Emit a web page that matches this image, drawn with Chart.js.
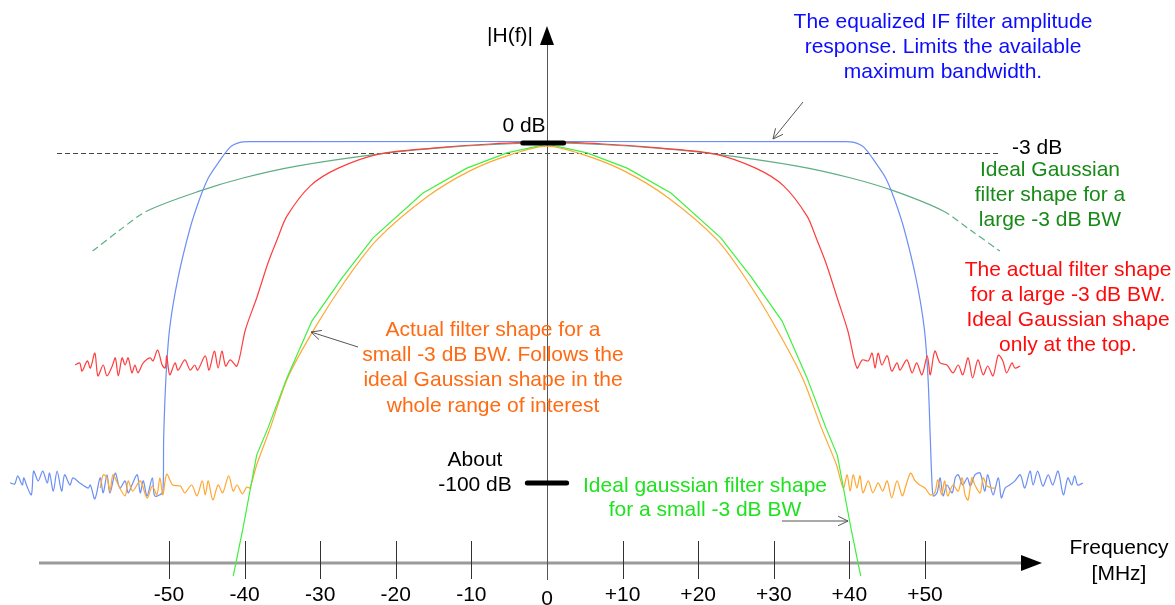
<!DOCTYPE html>
<html>
<head>
<meta charset="utf-8">
<title>IF filter shapes</title>
<script src="https://cdn.jsdelivr.net/npm/chart.js@4.4.1/dist/chart.umd.min.js"></script>
<style>
    html, body { margin: 0; padding: 0; background: #ffffff; }
    canvas { display: block; }
</style>
</head>
<body>
<canvas id="filterChart" width="1175" height="605"></canvas>
<script>
// Frequency axis ticks (MHz)
const TICK_VALUES = [-50, -40, -30, -20, -10, 0, 10, 20, 30, 40, 50];
const TICK_LABELS = ['-50', '-40', '-30', '-20', '-10', '0', '+10', '+20', '+30', '+40', '+50'];

// Reference levels (dB)
const TOP_LEVEL = 0;
const HALF_POWER_LEVEL = -3;
const FLOOR_LEVEL = -100;

// Each trace is a list of [frequency MHz, level dB]
const equalizedIF = [
    [-71.0, -100.0], [-70.4, -100.3], [-70.0, -97.9], [-69.4, -100.6], [-69.2, -98.5], [-68.8, -100.9],
    [-68.2, -103.5], [-67.9, -96.5], [-67.3, -99.4], [-66.7, -96.5], [-66.1, -100.0], [-65.8, -97.1],
    [-65.3, -102.4], [-64.8, -96.5], [-64.2, -102.4], [-63.8, -97.6], [-63.1, -100.6], [-62.7, -98.5],
    [-61.8, -100.0], [-60.7, -101.5], [-60.4, -100.6], [-59.8, -104.7], [-59.1, -98.5], [-58.7, -102.9],
    [-58.2, -97.6], [-57.8, -102.9], [-57.1, -97.1], [-56.5, -101.5], [-55.8, -99.4], [-55.4, -102.9],
    [-54.9, -100.6], [-54.2, -97.6], [-53.8, -102.9], [-53.4, -99.4], [-52.9, -103.8], [-52.2, -98.5],
    [-51.9, -103.8], [-51.2, -103.5], [-50.8, -102.4],
    [-50.7, -86.8], [-50.4, -69.1], [-49.9, -54.4], [-48.8, -39.7], [-47.2, -25.0], [-45.9, -16.2],
    [-44.8, -10.3], [-43.5, -5.9], [-41.9, -1.2], [-40.6, 0.2], [-39.3, 0.4],
    [39.3, 0.4], [40.6, 0.2], [41.9, -1.2], [43.5, -5.9], [44.8, -10.3], [45.9, -16.2], [47.2, -25.0],
    [48.8, -39.7], [49.9, -54.4], [50.4, -69.1], [50.7, -86.8], [50.9, -98.5],
    [51.1, -103.8], [51.6, -102.9], [52.0, -98.5], [52.4, -103.8], [52.9, -100.6], [53.6, -102.9],
    [54.0, -98.5], [54.4, -97.6], [55.0, -100.6], [55.6, -98.5], [56.0, -100.9], [56.6, -97.6],
    [57.3, -97.1], [57.9, -102.4], [58.3, -97.6], [59.0, -103.5], [59.7, -98.5], [60.1, -104.4],
    [60.6, -101.5], [61.2, -100.6], [61.9, -99.4], [62.6, -97.6], [63.2, -101.5], [63.9, -96.5],
    [64.3, -100.6], [64.9, -96.5], [65.6, -100.9], [66.3, -97.6], [66.9, -100.6], [67.6, -96.5],
    [68.3, -103.5], [68.9, -98.5], [69.4, -100.6], [69.8, -97.9], [70.2, -100.6], [70.9, -100.0]
];

const actualLargeBW = [
    [-62.4, -65.3], [-61.8, -64.7], [-61.5, -67.1], [-60.8, -64.1], [-60.4, -66.2], [-59.8, -61.8],
    [-59.4, -68.5], [-58.7, -65.3], [-58.2, -68.5], [-57.5, -65.6], [-57.1, -63.2], [-56.7, -68.5],
    [-56.2, -63.2], [-55.8, -65.3], [-55.4, -63.2], [-54.9, -67.6], [-54.5, -65.3], [-54.1, -67.6],
    [-53.4, -64.7], [-52.5, -63.2], [-52.1, -64.1], [-51.5, -60.9], [-50.9, -65.3], [-50.5, -66.2],
    [-50.3, -62.6], [-49.9, -68.2], [-49.2, -64.7], [-48.8, -66.8], [-47.9, -63.8], [-47.2, -66.8],
    [-46.6, -65.3], [-46.2, -66.8], [-45.2, -62.6], [-44.7, -66.8], [-44.0, -61.2], [-43.5, -66.2],
    [-43.0, -61.2], [-42.5, -65.6], [-41.9, -63.8], [-41.0, -65.6],
    [-39.9, -55.0], [-38.4, -45.6], [-36.9, -35.3], [-35.6, -27.9], [-34.4, -21.5], [-31.3, -12.6],
    [-27.6, -7.4], [-22.1, -3.2], [-15.1, -1.5], [-7.5, -0.3], [0, 0.3], [7.5, -0.3], [15.1, -1.5],
    [22.1, -3.2], [27.6, -7.4], [31.3, -12.6], [34.4, -21.5], [35.6, -27.9], [36.9, -35.3],
    [38.4, -45.6], [39.8, -55.3],
    [41.0, -66.2], [41.7, -63.8], [42.5, -64.1], [43.0, -61.8], [43.4, -66.2], [43.8, -61.8],
    [44.3, -65.3], [45.0, -62.6], [45.6, -67.1], [46.3, -64.7], [46.7, -66.8], [47.6, -63.8],
    [48.3, -67.6], [48.9, -64.7], [49.6, -68.2], [50.3, -62.6], [50.7, -68.2], [51.3, -61.2],
    [52.0, -64.7], [52.9, -65.3], [53.7, -67.6], [54.4, -65.3], [55.0, -68.2], [55.7, -63.2],
    [56.3, -69.1], [57.0, -63.8], [57.7, -68.2], [58.3, -65.6], [59.0, -68.5], [59.7, -62.4],
    [60.3, -64.1], [60.8, -67.6], [61.5, -64.7], [61.9, -66.2], [62.6, -65.6]
];

const actualSmallBW = [
    [-59.1, -101.5], [-58.7, -97.6], [-58.2, -98.5], [-57.8, -102.4], [-57.4, -97.6], [-56.7, -100.6],
    [-55.8, -103.8], [-55.4, -99.4], [-54.8, -102.4], [-53.8, -99.4], [-52.9, -104.4], [-52.2, -100.9],
    [-51.6, -103.5], [-51.2, -98.5], [-50.8, -103.5], [-50.3, -97.4], [-49.5, -100.6], [-48.5, -100.9],
    [-47.9, -102.9], [-47.0, -100.6], [-46.3, -103.8], [-45.6, -99.4], [-45.2, -103.5], [-44.8, -99.4],
    [-44.2, -105.0], [-43.5, -100.6], [-42.9, -102.9], [-42.1, -97.9], [-41.5, -102.4], [-41.0, -100.6],
    [-40.3, -103.2], [-39.7, -101.2], [-39.3, -101.5],
    [-38.4, -94.7], [-36.6, -83.8], [-34.3, -69.1], [-30.7, -54.4], [-26.7, -40.6], [-22.5, -28.5],
    [-15.9, -15.9], [-10.2, -8.2], [-4.9, -3.5], [0, -0.9], [4.9, -3.5], [10.2, -8.2], [15.9, -15.9],
    [22.5, -28.5], [26.5, -40.6], [30.3, -54.4], [33.8, -69.1], [36.3, -83.8], [38.3, -94.7],
    [39.2, -101.5], [39.7, -97.6], [40.1, -102.4], [40.5, -97.6], [41.0, -101.5], [41.4, -97.9],
    [41.8, -102.9], [42.5, -99.4], [43.1, -102.9], [43.8, -100.0], [44.4, -102.4], [45.0, -99.4],
    [45.6, -104.4], [46.3, -99.4], [47.0, -103.8], [47.5, -100.6], [48.1, -97.1], [48.7, -99.4],
    [49.3, -100.6], [50.0, -101.5], [50.7, -103.5], [51.3, -102.9], [51.7, -99.1], [52.2, -103.5],
    [52.6, -99.4], [53.0, -103.8], [53.7, -100.6], [54.4, -102.4], [54.9, -98.5], [55.3, -103.5],
    [55.7, -105.0], [56.2, -98.5], [56.6, -100.6], [57.3, -102.9], [57.7, -98.5], [58.2, -100.9],
    [58.9, -101.5], [59.3, -101.5]
];

const idealSmallBW = [
    [-41.5, -127.4], [-40.2, -113.2], [-38.4, -91.8], [-36.9, -83.8], [-34.4, -69.1], [-31.1, -52.4],
    [-27.1, -39.7], [-23.0, -27.9], [-16.4, -14.7], [-10.6, -7.4], [-5.3, -2.9], [0, -0.3],
    [5.3, -2.9], [10.6, -7.4], [16.4, -14.7], [23.0, -27.9], [27.1, -39.7], [31.1, -52.4],
    [34.4, -69.1], [36.9, -83.8], [38.4, -91.8], [40.2, -113.2], [41.5, -127.4]
];

const idealLargeBW = [
    [-60.1, -31.8], [-56.5, -25.6], [-52.9, -20.0], [-45.9, -14.1], [-40.2, -10.3], [-33.1, -6.8],
    [-22.1, -3.2], [-12.8, -1.2], [0, 0], [12.8, -1.2], [22.1, -3.2], [33.1, -6.8], [40.2, -10.3],
    [45.9, -14.1], [52.4, -20.0], [56.0, -25.6], [59.9, -31.8]
];

// Drawing constants
const FONT = '21px "Liberation Sans", Arial, sans-serif';
const X_RANGE = { min: -72.35, max: 83.07 };
const Y_RANGE = { min: -135.9, max: 42.06 };

function toPoints(trace) {
    return trace.map(([x, y]) => ({ x: x, y: y }));
}

function lineSet(trace, color, extra) {
    return Object.assign({
        data: toPoints(trace),
        borderColor: color,
        borderWidth: 1.2,
        pointRadius: 0,
        fill: false,
        tension: 0.3
    }, extra || {});
}

function drawArrow(ctx, x1, y1, x2, y2) {
    const angle = Math.atan2(y2 - y1, x2 - x1);
    const head = 11;
    ctx.beginPath();
    ctx.moveTo(x1, y1);
    ctx.lineTo(x2, y2);
    ctx.moveTo(x2 - head * Math.cos(angle - 0.45), y2 - head * Math.sin(angle - 0.45));
    ctx.lineTo(x2, y2);
    ctx.lineTo(x2 - head * Math.cos(angle + 0.45), y2 - head * Math.sin(angle + 0.45));
    ctx.stroke();
}

function drawLines(ctx, lines, x, y, step, color) {
    ctx.fillStyle = color;
    lines.forEach((text, i) => ctx.fillText(text, x, y + i * step));
}

// Axes and the -3 dB reference go under the curves
const axesPlugin = {
    id: 'axes',
    beforeDatasetsDraw(chart) {
        const ctx = chart.ctx;
        const xs = chart.scales.x;
        const ys = chart.scales.y;
        const x0 = xs.getPixelForValue(0);
        const axisY = 563;
        ctx.save();

        // -3 dB dashed line
        const yHalf = Math.round(ys.getPixelForValue(HALF_POWER_LEVEL)) + 0.5;
        ctx.strokeStyle = '#444';
        ctx.lineWidth = 1;
        ctx.setLineDash([5, 3]);
        ctx.beginPath();
        ctx.moveTo(57, yHalf);
        ctx.lineTo(1000, yHalf);
        ctx.stroke();
        ctx.setLineDash([]);

        // frequency axis
        ctx.strokeStyle = '#9a9a9a';
        ctx.lineWidth = 3;
        ctx.beginPath();
        ctx.moveTo(39, axisY);
        ctx.lineTo(1024, axisY);
        ctx.stroke();
        ctx.fillStyle = '#000';
        ctx.beginPath();
        ctx.moveTo(1042, axisY);
        ctx.lineTo(1021, axisY - 8);
        ctx.lineTo(1021, axisY + 8);
        ctx.closePath();
        ctx.fill();

        // tick marks
        ctx.strokeStyle = '#333';
        ctx.lineWidth = 1;
        TICK_VALUES.forEach(v => {
            const px = Math.round(xs.getPixelForValue(v)) + 0.5;
            ctx.beginPath();
            ctx.moveTo(px, axisY - 22);
            ctx.lineTo(px, axisY + 16);
            ctx.stroke();
        });

        // |H(f)| axis
        ctx.strokeStyle = '#555';
        ctx.beginPath();
        ctx.moveTo(Math.round(x0) + 0.5, 44);
        ctx.lineTo(Math.round(x0) + 0.5, 580);
        ctx.stroke();
        ctx.fillStyle = '#000';
        ctx.beginPath();
        ctx.moveTo(x0, 26);
        ctx.lineTo(x0 - 7, 45);
        ctx.lineTo(x0 + 7, 45);
        ctx.closePath();
        ctx.fill();

        // tick labels
        ctx.font = FONT;
        ctx.textAlign = 'center';
        ctx.textBaseline = 'middle';
        TICK_VALUES.forEach((v, i) => {
            ctx.fillText(TICK_LABELS[i], xs.getPixelForValue(v), v === 0 ? 599 : 595);
        });
        ctx.restore();
    }
};

// Level markers, notes and pointers on top
const notesPlugin = {
    id: 'notes',
    afterDatasetsDraw(chart) {
        const ctx = chart.ctx;
        const xs = chart.scales.x;
        const ys = chart.scales.y;
        ctx.save();

        // 0 dB and -100 dB markers
        ctx.strokeStyle = '#000';
        ctx.lineWidth = 5;
        ctx.lineCap = 'round';
        ctx.beginPath();
        ctx.moveTo(xs.getPixelForValue(-3.2), ys.getPixelForValue(TOP_LEVEL));
        ctx.lineTo(xs.getPixelForValue(2.2), ys.getPixelForValue(TOP_LEVEL));
        ctx.moveTo(xs.getPixelForValue(-2.6), ys.getPixelForValue(FLOOR_LEVEL));
        ctx.lineTo(xs.getPixelForValue(2.6), ys.getPixelForValue(FLOOR_LEVEL));
        ctx.stroke();
        ctx.lineCap = 'butt';

        ctx.font = FONT;
        ctx.textAlign = 'center';
        ctx.textBaseline = 'middle';

        // black labels
        drawLines(ctx, ['|H(f)|'], 510, 36, 25, '#000');
        drawLines(ctx, ['0 dB'], 524, 126, 25, '#000');
        drawLines(ctx, ['About', '-100 dB'], 475, 460, 25, '#000');
        drawLines(ctx, ['Frequency', '[MHz]'], 1119, 548, 26, '#000');
        ctx.textAlign = 'left';
        drawLines(ctx, ['-3 dB'], 1012, 148, 25, '#000');
        ctx.textAlign = 'center';

        // notes
        drawLines(ctx, ['The equalized IF filter amplitude', 'response. Limits the available',
            'maximum bandwidth.'], 943, 22, 25, '#0c0cff');
        drawLines(ctx, ['Ideal Gaussian', 'filter shape for a', 'large -3 dB BW'],
            1050, 170, 25, '#178a17');
        drawLines(ctx, ['The actual filter shape', 'for a large -3 dB BW.',
            'Ideal Gaussian shape', 'only at the top.'], 1068, 270, 25, '#ff0a0a');
        drawLines(ctx, ['Actual filter shape for a', 'small -3 dB BW. Follows the',
            'ideal Gaussian shape in the', 'whole range of interest'], 493, 330, 25.3, '#ff6a12');
        drawLines(ctx, ['Ideal gaussian filter shape', 'for a small -3 dB BW'],
            705, 486, 24.5, '#1ee21e');

        // pointers
        ctx.strokeStyle = '#555';
        ctx.lineWidth = 1;
        drawArrow(ctx, 803, 102, 773, 139);
        drawArrow(ctx, 358, 347, 311, 332);
        drawArrow(ctx, 782, 521, 848, 521);
        ctx.restore();
    }
};

const ctx = document.getElementById('filterChart').getContext('2d');
new Chart(ctx, {
    type: 'line',
    data: {
        datasets: [
            lineSet(actualLargeBW, '#ff3d3d'),
            lineSet(idealSmallBW, '#3ef03e', { tension: 0 }),
            lineSet(actualSmallBW, '#ffa733'),
            lineSet(equalizedIF, '#6b8ff5'),
            lineSet(idealLargeBW, '#5fae84', {
                segment: {
                    borderDash: c => (c.p1.parsed.x < -52 || c.p0.parsed.x > 52) ? [7, 4] : undefined
                }
            })
        ]
    },
    options: {
        responsive: false,
        animation: false,
        devicePixelRatio: 1,
        layout: { padding: 0 },
        plugins: {
            legend: { display: false },
            tooltip: { enabled: false }
        },
        scales: {
            x: { type: 'linear', display: false, min: X_RANGE.min, max: X_RANGE.max },
            y: { type: 'linear', display: false, min: Y_RANGE.min, max: Y_RANGE.max }
        }
    },
    plugins: [axesPlugin, notesPlugin]
});
</script>
</body>
</html>
